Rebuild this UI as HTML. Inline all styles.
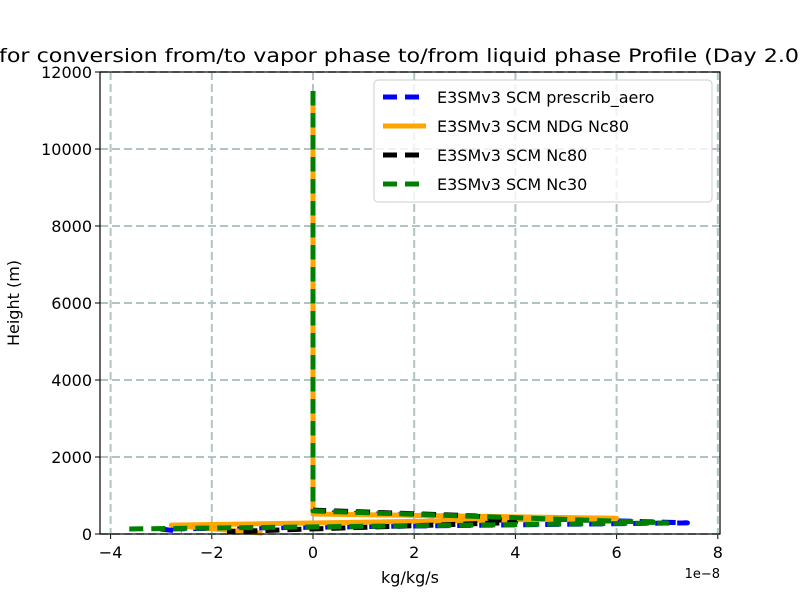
<!DOCTYPE html>
<html><head><meta charset="utf-8"><style>body{margin:0;background:#fff}svg{font-family:"DejaVu Sans","Liberation Sans",sans-serif}</style></head>
<body>
<svg id="c" width="800" height="600"></svg>
<script>
const xTicks=[-4,-2,0,2,4,6,8];
const yTicks=[0,2000,4000,6000,8000,10000,12000];
const seriesNames=["E3SMv3 SCM prescrib_aero","E3SMv3 SCM NDG Nc80","E3SMv3 SCM Nc80","E3SMv3 SCM Nc30"];
const blueH=[11500,560,290,130,60];const blueX=[0,0,7.4,-3.0,-2.6];
const orangeH=[11500,520,410,230,20];const orangeX=[0,0,6.0,-2.8,-1.0];
const blackH=[11500,620,470,300,60];const blackX=[0,0,3.2,4.0,-1.7];
const greenH=[11500,600,290,130];const greenX=[0,0,7.0,-3.7];
const L=100,R=720,T=72,B=534;
const X=v=>313+v*50.6, Y=h=>B-(h/12000)*(B-T);
const s=document.getElementById('c');const NS="http://www.w3.org/2000/svg";
function el(t,a,p){const e=document.createElementNS(NS,t);for(const k in a)e.setAttribute(k,a[k]);(p||s).appendChild(e);return e;}
xTicks.forEach(v=>{const g=el('line',{x1:X(v),x2:X(v),y1:T,y2:B,stroke:'#b0c4c4',"stroke-width":2,"stroke-dasharray":"8,4"});
el('line',{x1:X(v),x2:X(v),y1:B,y2:B+5,stroke:'#000'});
const l=el('text',{x:X(v),y:B+24,"text-anchor":"middle","font-size":16});l.textContent=(v<0?'\u2212'+(-v):v);});
yTicks.forEach(v=>{const g=el('line',{x1:L,x2:R,y1:Y(v),y2:Y(v),stroke:'#b0c4c4',"stroke-width":2,"stroke-dasharray":"8,4"});
el('line',{x1:L-5,x2:L,y1:Y(v),y2:Y(v),stroke:'#000'});
const l=el('text',{x:L-8,y:Y(v)+6,"text-anchor":"end","font-size":16});l.textContent=v;});
function line(xs,hs,c,dash,name){const p=el('polyline',{points:xs.map((v,i)=>X(v)+','+Y(hs[i])).join(' '),fill:'none',stroke:c,"stroke-width":5,"stroke-dasharray":dash,"stroke-linejoin":"round"});}
line(blueX,blueH,'#0000ff','14,8','series-prescrib-aero');
line(orangeX,orangeH,'#ffa500','none','series-ndg-nc80');
line(blackX,blackH,'#000','14,8','series-nc80');
line(greenX,greenH,'#008000','14,8','series-nc30');
el('rect',{x:L,y:T,width:R-L,height:B-T,fill:'none',stroke:'#000',"stroke-width":1.2});
const lg=el('g',{});
el('rect',{x:374,y:80,width:338,height:122,rx:4,fill:'#fff',"fill-opacity":0.8,stroke:'#ccc'},lg);
const cols=['#0000ff','#ffa500','#000','#008000'],ds=['14,8','none','14,8','14,8'];
seriesNames.forEach((n,i)=>{const y=97+i*29;el('line',{x1:383,x2:426,y1:y,y2:y,stroke:cols[i],"stroke-width":5,"stroke-dasharray":ds[i]},lg);
const t=el('text',{x:437,y:y+6,"font-size":16},lg);t.textContent=n;});
const tt=el('text',{x:-1,y:62,"font-size":19,textLength:800,lengthAdjust:"spacingAndGlyphs"});tt.textContent='for conversion from/to vapor phase to/from liquid phase Profile (Day 2.0';
const xl=el('text',{x:410,y:583,"text-anchor":"middle","font-size":16});xl.textContent='kg/kg/s';
const ex=el('text',{x:720,y:578,"text-anchor":"end","font-size":13});ex.textContent='1e\u22128';
const yl=el('text',{x:19,y:303,"text-anchor":"middle","font-size":16,transform:'rotate(-90 19 303)'});yl.textContent='Height (m)';
</script>
</body></html>
